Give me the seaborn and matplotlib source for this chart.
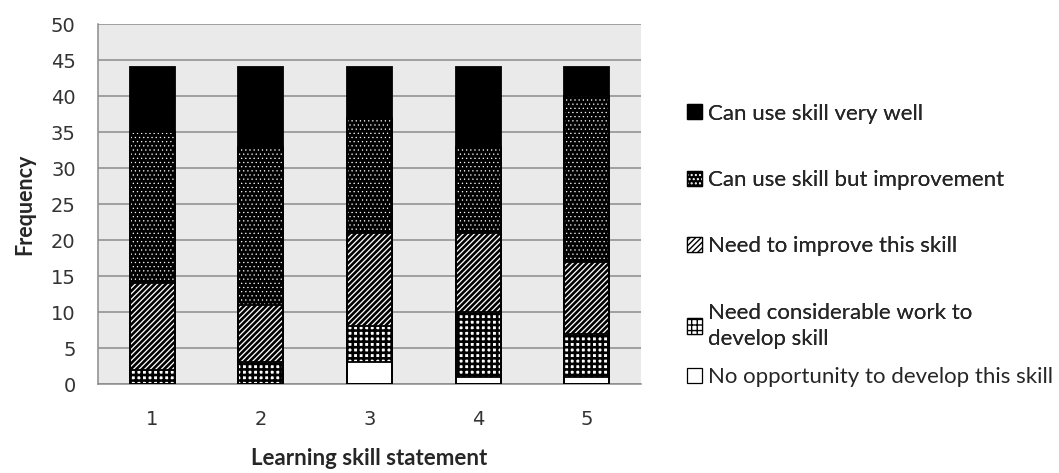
import numpy as np
import pandas as pd
import seaborn as sns
import matplotlib.pyplot as plt
from matplotlib.patches import Patch
from matplotlib.legend_handler import HandlerTuple

# Survey responses per learning skill statement (counts)
statements = ['1', '2', '3', '4', '5']
no_opportunity = [0, 0, 3, 1, 1]
considerable_work = [2, 3, 5, 9, 6]
need_improve = [12, 8, 13, 11, 10]
use_but_improve = [21, 22, 16, 12, 23]
use_very_well = [9, 11, 7, 11, 4]

labels = [
    'No opportunity to develop this skill',
    'Need considerable work to\ndevelop skill',
    'Need to improve this skill',
    'Can use skill but improvement',
    'Can use skill very well',
]
series = [no_opportunity, considerable_work, need_improve, use_but_improve, use_very_well]

# face colour, hatch, hatch colour, hatch width for each segment (bottom to top)
styles = [
    ('white', None, 'black', 1.0),
    ('white', '+++', 'black', 1.9),
    ('white', '//////', 'black', 1.9),
    ('black', '....', 'white', 0.4),
    ('black', None, 'black', 1.0),
]

df = pd.DataFrame({'statement': statements})
cum = np.cumsum(np.array(series), axis=0)

sns.set_style('white')
plt.rcParams['font.family'] = ['DejaVu Sans']
label_font = ['Lato', 'DejaVu Sans']

fig = plt.figure(figsize=(10.59, 4.73), dpi=100)
ax = fig.add_axes([0.0925, 0.188, 0.513, 0.761])
ax.set_facecolor('#eaeaea')

# stacked bars: draw tallest cumulative first, then overlay lower ones
for i in range(len(series) - 1, -1, -1):
    face, hatch, hcol, hlw = styles[i]
    df['val'] = cum[i]
    with plt.rc_context({'hatch.linewidth': hlw}):
        sns.barplot(data=df, x='statement', y='val', color=face, width=0.414,
                    saturation=1, ax=ax, edgecolor=hcol, linewidth=0,
                    hatch=hatch, zorder=2)

# segment outlines
for i in range(len(series) - 1, -1, -1):
    df['val'] = cum[i]
    sns.barplot(data=df, x='statement', y='val', fill=False, width=0.414,
                ax=ax, edgecolor='black', linewidth=1.3, zorder=3)

ax.set_ylim(0, 50)
ax.set_xlim(-0.5, 4.5)
ax.set_yticks(range(0, 51, 5))
ax.yaxis.grid(True, color='#8c8c8c', linewidth=1.1)
ax.set_axisbelow(True)

for s in ['top', 'right']:
    ax.spines[s].set_visible(False)
for s in ['left', 'bottom']:
    ax.spines[s].set_color('#8c8c8c')
    ax.spines[s].set_linewidth(1.1)

ax.set_xticks(np.arange(-0.5, 5, 1), minor=True)
ax.tick_params(axis='x', which='major', length=0, pad=18.5, labelsize=14, colors='#333333')
ax.tick_params(axis='x', which='minor', length=7, width=1, color='#8c8c8c', direction='out')
ax.tick_params(axis='y', length=6, width=1, color='#8c8c8c', direction='out',
               labelsize=14, labelcolor='#333333', pad=10)

ax.set_xlabel('Learning skill statement', fontsize=16, fontweight='bold',
              family=label_font, labelpad=14)
ax.set_ylabel('Frequency', fontsize=15.5, fontweight='bold',
              family=label_font, labelpad=11)

handles = []
for i in range(len(series) - 1, -1, -1):
    face, hatch, hcol, hlw = styles[i]
    with plt.rc_context({'hatch.linewidth': min(hlw, 1.0)}):
        fill = Patch(facecolor=face, edgecolor=hcol, hatch=hatch, linewidth=0)
    edge = Patch(facecolor='none', edgecolor='black', linewidth=0.9)
    handles.append((fill, edge))

leg_kw = dict(frameon=False, prop={'family': label_font, 'size': 16},
              handlelength=0.68, handleheight=0.68, handletextpad=0.27,
              borderpad=0, borderaxespad=0,
              handler_map={tuple: HandlerTuple(ndivide=1, pad=0)})

leg1 = fig.legend(handles=handles[:4], labels=labels[::-1][:4], loc='upper left',
                  bbox_to_anchor=(0.6487, 0.781), labelspacing=2.09, **leg_kw)
leg1.get_texts()[3].set_linespacing(1.35)
leg2 = fig.legend(handles=handles[4:], labels=labels[::-1][4:], loc='center left',
                  bbox_to_anchor=(0.6487, 0.203), **leg_kw)
fig.add_artist(leg1)

fig.savefig('out.png', dpi=100)
